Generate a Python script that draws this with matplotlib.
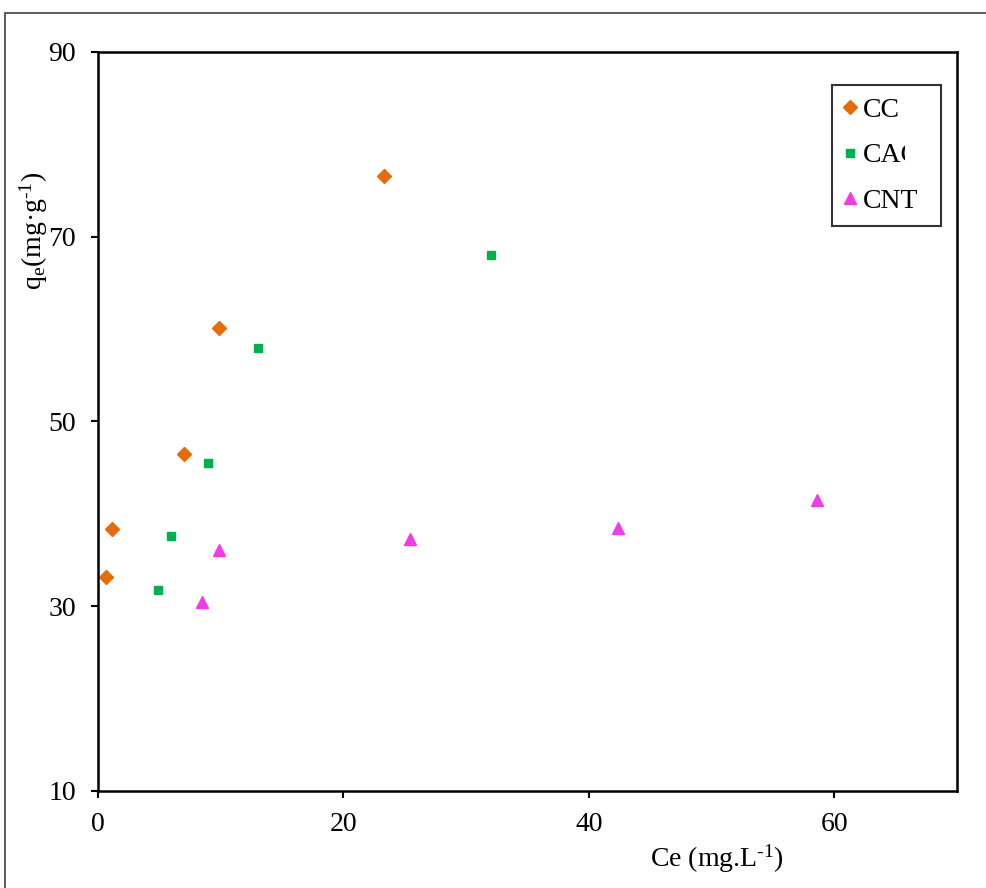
import matplotlib
matplotlib.use("Agg")
import matplotlib.pyplot as plt
from matplotlib.patches import Rectangle
from matplotlib.transforms import Bbox

plt.rcParams['font.family'] = ['Liberation Serif', 'DejaVu Serif']
plt.rcParams['mathtext.fontset'] = 'custom'
plt.rcParams['mathtext.rm'] = 'Liberation Serif'
plt.rcParams['mathtext.it'] = 'Liberation Serif'

# equilibrium data
cc_ce = [0.66, 1.15, 6.97, 9.84, 23.3]
cc_qe = [33.2, 38.4, 46.5, 60.1, 76.6]

cac_ce = [4.92, 5.98, 8.93, 13.03, 32.05]
cac_qe = [31.8, 37.6, 45.5, 58.0, 68.0]

cnt_ce = [8.44, 9.84, 25.4, 42.4, 58.6]
cnt_qe = [30.5, 36.1, 37.3, 38.5, 41.5]

x_ticks = [0, 20, 40, 60]
y_ticks = [10, 30, 50, 70, 90]

fig = plt.figure(figsize=(9.86, 8.88), dpi=100)
ax = fig.add_axes([98 / 986, 1 - 791 / 888, 859 / 986, 739 / 888])

# outer frame around the chart area (runs off the right/bottom edge)
fig.patches.append(Rectangle((5 / 986, -0.1), 1.2, 1 - 13 / 888 + 0.1,
                             transform=fig.transFigure, fill=False,
                             edgecolor='#404040', linewidth=1.2))

ax.plot(cc_ce, cc_qe, linestyle='none', marker='D', markersize=6.8,
        color='#E46C0A', label='CC')
ax.plot(cac_ce, cac_qe, linestyle='none', marker='s', markersize=5.5,
        color='#00B050', label='CAC')
ax.plot(cnt_ce, cnt_qe, linestyle='none', marker='^', markersize=8,
        color='#F03CE6', label='CNT')

ax.set_xlim(0, 70)
ax.set_ylim(10, 90)
ax.set_xticks(x_ticks)
ax.set_yticks(y_ticks)
ax.tick_params(direction='out', length=5, width=1.5, labelsize=20)
ax.tick_params(axis='x', pad=10)
ax.tick_params(axis='y', pad=11)
for s in ax.spines.values():
    s.set_linewidth(1.8)

ax.set_xlabel('Ce (mg.L$^{\u20101}$)', fontsize=20)
ax.xaxis.set_label_coords(0.72, -0.07)
ax.set_ylabel('q$_{\\rm e}$(mg·g$^{\u20101}$)', fontsize=20)
ax.yaxis.set_label_coords(-0.056, 0.758)

x0 = (832 - 98) / 859
x1 = (941 - 98) / 859
y1 = (791 - 85) / 739
y0 = (791 - 221) / 739
leg = ax.legend(loc='upper left', bbox_to_anchor=(x0, y0, x1 - x0, y1 - y0),
                mode='expand', frameon=True, fancybox=False, edgecolor='black',
                fontsize=20, handlelength=0.4, handletextpad=0.25,
                labelspacing=0.72, borderpad=0.45, borderaxespad=0)
leg.get_frame().set_linewidth(1.5)

fig.canvas.draw()
# the CAC label is cut off by its text box in the original
t = leg.get_texts()[1]
bb = t.get_window_extent()
t.set_clip_box(Bbox.from_extents(bb.x0 - 5, bb.y0 - 5, 905, bb.y1 + 5))
t.set_clip_on(True)

fig.savefig('out.png', dpi=100)
